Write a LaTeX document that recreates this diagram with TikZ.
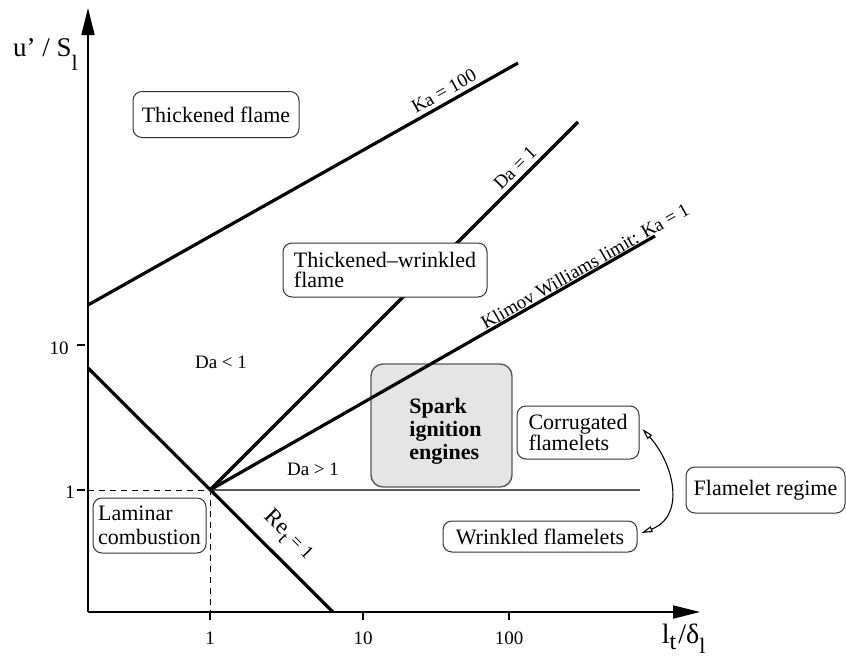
\documentclass[tikz,border=0pt]{standalone}
\usepackage{fontspec}
\setmainfont{Liberation Serif}
\usetikzlibrary{arrows.meta}
\begin{document}
\begin{tikzpicture}[x=1pt,y=-1pt,
  thickline/.style={line width=3.2pt},
  axisline/.style={line width=1.8pt},
  tickline/.style={line width=1.2pt},
  dashline/.style={line width=1pt, dash pattern=on 6pt off 5pt},
  thinline/.style={draw=black!65, line width=1.3pt},
  regbox/.style={draw=black!80, line width=1pt, fill=white, rounded corners=9pt, inner sep=0pt, align=left},
  lab/.style={font=\fontsize{19}{21}\selectfont, inner sep=0pt},
  bigarrow/.style={-{Triangle[length=27pt,width=13pt]}},
  openarrows/.style={{Triangle[open,length=11pt,width=6pt]}-{Triangle[open,length=11pt,width=6pt]}}
]
\useasboundingbox (0,0) rectangle (846,662);

% key points
\coordinate (O) at (88,612);
\coordinate (ytop) at (88,8);
\coordinate (xend) at (700,612);
\coordinate (P1) at (210,490);
\coordinate (y1) at (88,490);
\coordinate (x1) at (210,612);
\coordinate (reA) at (88,368);
\coordinate (reB) at (333,612);
\coordinate (kaA) at (88,305);
\coordinate (kaB) at (518,63);
\coordinate (daB) at (578,122);
\coordinate (klB) at (655,236);
\coordinate (hB) at (640,490);

% dashed reference lines
\draw[dashline] (y1) -- (P1) -- (x1);

% ticks
\draw[tickline] (77,345) -- (85,345);
\draw[tickline] (77,490) -- (85,490);
\draw[tickline] (210,612) -- (210,620);
\draw[tickline] (363,612) -- (363,620);
\draw[tickline] (509,612) -- (509,620);

% tick labels
\node[lab] (ty10) at (59,348) {10};
\node[lab] (ty1) at (70,492) {1};
\node[lab] (tx1) at (210,638) {1};
\node[lab] (tx10) at (363,638) {10};
\node[lab] (tx100) at (509,638) {100};

% horizontal Da = 1 level line
\draw[thinline] (P1) -- (hB);

% regime lines
\draw[thickline] (reA) -- (reB);
\draw[thickline] (kaA) -- (kaB);
\draw[thickline] (P1) -- (daB);

% spark ignition box (below Klimov line)
\node[draw=black!65, line width=1.4pt, fill=black!10, rounded corners=12pt,
      minimum width=141pt, minimum height=123pt, inner sep=0pt] (spark) at (441.5,425.5) {};
\node[inner sep=0pt, align=left, font=\fontsize{22}{23}\selectfont\bfseries] (sparktxt) at (445.5,431)
      {Spark\\ignition\\engines};

\draw[thickline] (P1) -- (klB);

% axes
\draw[axisline, bigarrow] (O) -- (ytop);
\draw[axisline, bigarrow] (O) -- (xend);

% regime boxes
\node[regbox, minimum width=166pt, minimum height=46pt, font=\fontsize{22}{22}\selectfont] (thick) at (216,114.5) {Thickened flame};
\node[regbox, minimum width=204pt, minimum height=54pt, font=\fontsize{22}{19.5}\selectfont] (tw) at (385,270) {Thickened--wrinkled\\flame};
\node[regbox, minimum width=113pt, minimum height=55pt, font=\fontsize{22}{23.4}\selectfont] (lam) at (149.5,525.5) {Laminar\\combustion};
\node[regbox, minimum width=122pt, minimum height=53pt, font=\fontsize{22}{21.4}\selectfont] (corr) at (578,432.5) {Corrugated\\flamelets};
\node[regbox, minimum width=159pt, minimum height=46pt, font=\fontsize{22}{22}\selectfont] (flam) at (765.5,490) {Flamelet regime};
\node[regbox, minimum width=194pt, minimum height=31pt, font=\fontsize{22}{22}\selectfont] (wrink) at (540,536.5) {Wrinkled flamelets};

% double arrow
\draw[line width=1.1pt, openarrows] ([shift={(3,-3.5)}]corr.east) .. controls (674,464) and (686,516) .. ([shift={(4,-3.5)}]wrink.east);

% line labels
\node[lab, rotate=29.4] (kalab) at (444,91) {Ka = 100};
\node[lab, rotate=45] (dalab) at (515,168) {Da = 1};
\node[lab, rotate=29.6] (kllab) at (585,266) {Klimov Williams limit: Ka = 1};
\node[lab, rotate=-45] (relab) at (288,536) {\fontsize{23}{23}\selectfont Re\raisebox{-6pt}{\fontsize{19}{19}\selectfont t}\fontsize{19}{19}\selectfont\ = 1};
\node[lab] (dalt) at (221,362) {Da < 1};
\node[lab] (dagt) at (313,469) {Da > 1};

% axis labels
\node[anchor=base west, inner sep=0pt, font=\fontsize{27}{27}\selectfont] (ylab) at (13,56)
  {u’ / S\raisebox{-14pt}{\fontsize{22}{22}\selectfont l}};
\node[anchor=base west, inner sep=0pt, font=\fontsize{28}{28}\selectfont] (xlab) at (661.7,643)
  {l\raisebox{-6pt}{\fontsize{24}{24}\selectfont t}\hspace{2pt}/δ\raisebox{-10pt}{\fontsize{22}{22}\selectfont l}};
\end{tikzpicture}
\end{document}
